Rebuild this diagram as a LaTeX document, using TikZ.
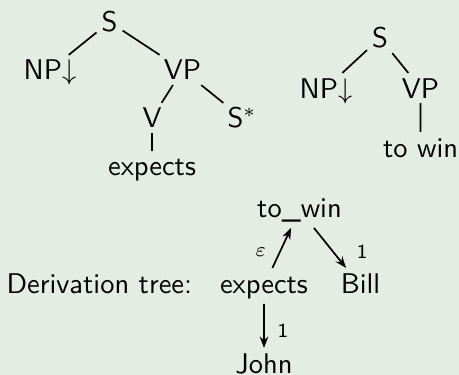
\documentclass[tikz,border=0pt]{standalone}
\usepackage{tikz}
\usetikzlibrary{trees, positioning, arrows.meta}
\usepackage{xcolor}

\definecolor{slidebg}{RGB}{228,237,228}

\begin{document}
\begin{tikzpicture}[font=\sffamily, level distance=0.592cm, semithick,
    >={Stealth[length=4pt, width=3pt]},
    every node/.style={inner sep=1.5pt, text height=7pt, text depth=0pt},
    elabel/.style={font=\sffamily\scriptsize, text height=, text depth=}]
        \useasboundingbox[fill=slidebg] (0,0) rectangle (5.661,-4.625);

        % expects, elementary tree with foot node
        \node (s1) at (1.351,-0.271) {S}
            child[sibling distance=1.634cm, xshift=0.083cm] {node (np1) {NP$\downarrow$}}
            child[sibling distance=1.634cm, xshift=0.083cm] {
              node (vp1) {VP}
              child[sibling distance=1.11cm, xshift=0.179cm] {node (v1) {V}
                child {node (exp1) {expects}}
              }
              child[sibling distance=1.11cm, xshift=0.179cm] {node (sf1) {S$^*$}}
            };

        % to win, initial tree
        \node (s2) at (4.687,-0.469) {S} [level distance=0.617cm]
            child[sibling distance=1.166cm, xshift=-0.083cm] {node (np2) {NP$\downarrow$}}
            child[sibling distance=1.166cm, xshift=-0.083cm] {
              node (vp2) {VP}
              child[level distance=0.728cm] {node (tw2) {to win}}
            };

        % derivation tree
        \node[text depth=2pt] (dtw) at (3.694,-2.589) {to\_win}
            [level distance=0.937cm, every node/.append style={text depth=2pt}]
            child[sibling distance=1.19cm, xshift=0.157cm] {
              node (dexp) {expects}
              child[level distance=0.987cm] {node (djohn) {John}
                edge from parent[->] node[elabel, pos=0.6, right=3pt] {1}
              }
              edge from parent[<-] node[elabel, pos=0.6, left=3pt] {$\varepsilon$}
            }
            child[sibling distance=1.19cm, xshift=0.157cm] {
              node (dbill) {Bill}
              edge from parent[->] node[elabel, pos=0.6, right=6.5pt] {1}
            };

        \node[base left=0.22cm of dexp] (dlabel) {Derivation tree:};
\end{tikzpicture}
\end{document}
